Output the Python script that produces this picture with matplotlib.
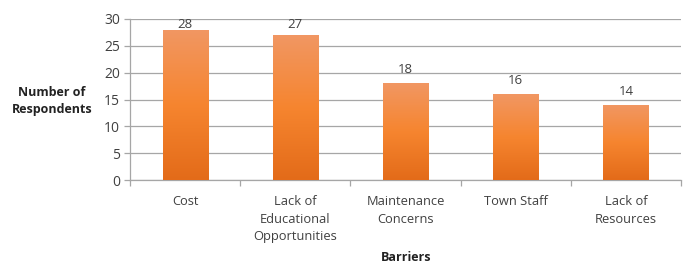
import matplotlib
matplotlib.use("Agg")
import matplotlib.pyplot as plt
import numpy as np
from matplotlib.colors import LinearSegmentedColormap

# chart data
barriers = ["Cost", "Lack of\nEducational\nOpportunities", "Maintenance\nConcerns",
            "Town Staff", "Lack of\nResources"]
respondents = [28, 27, 18, 16, 14]
yticks = [0, 5, 10, 15, 20, 25, 30]

plt.rcParams['font.family'] = ['Open Sans', 'DejaVu Sans']
txt = '#404040'

fig = plt.figure(figsize=(6.88, 2.65), dpi=100)
ax = fig.add_axes([130/688, 1 - 180/265, 551/688, 161/265])

x = np.arange(len(barriers))
bars = ax.bar(x, respondents, width=0.41, color='#F4842F', zorder=2)

# orange vertical gradient inside each bar
grad = LinearSegmentedColormap.from_list('org', ['#E36B19', '#F6852F', '#F19763'])
g = np.linspace(0, 1, 256).reshape(-1, 1)
for b in bars:
    x0, w, h = b.get_x(), b.get_width(), b.get_height()
    im = ax.imshow(g, cmap=grad, origin='lower', aspect='auto',
                   extent=[x0, x0 + w, 0, h], zorder=3)
    im.set_clip_path(b)
    # Excel keeps the label inside the plot area near the top
    ax.text(x0 + w / 2, min(h + 1.9, 28.3), str(h), ha='center', va='baseline',
            fontsize=9.5, color=txt, zorder=4)

ax.set_xlim(-0.5, len(barriers) - 0.5)
ax.set_ylim(0, 30)
ax.set_yticks(yticks)
ax.yaxis.grid(True, color='#a6a6a6', linewidth=0.9, zorder=0)
ax.set_axisbelow(True)

for s in ['top', 'right']:
    ax.spines[s].set_visible(False)
for s in ['left', 'bottom']:
    ax.spines[s].set_color('#a6a6a6')
    ax.spines[s].set_linewidth(0.9)

ax.set_xticks(x)
ax.set_xticklabels(barriers, fontsize=9.3, color=txt, linespacing=1.45, va='top')
ax.tick_params(axis='x', length=0, pad=11)
ax.set_xticks(np.arange(-0.5, len(barriers)), minor=True)
ax.tick_params(axis='x', which='minor', length=4, color='#a6a6a6', width=0.9)
ax.tick_params(axis='y', length=4, color='#a6a6a6', width=0.9,
               labelsize=10, labelcolor=txt, pad=3)

fig.text(52/688, 1 - 101/265, "Number of\nRespondents", ha='center', va='center',
         fontsize=9, fontweight='bold', color='#222222', linespacing=1.45)
fig.text(406/688, 1 - 264/265, "Barriers", ha='center', va='bottom',
         fontsize=9, fontweight='bold', color='#222222')

fig.savefig("out.png", dpi=100)
